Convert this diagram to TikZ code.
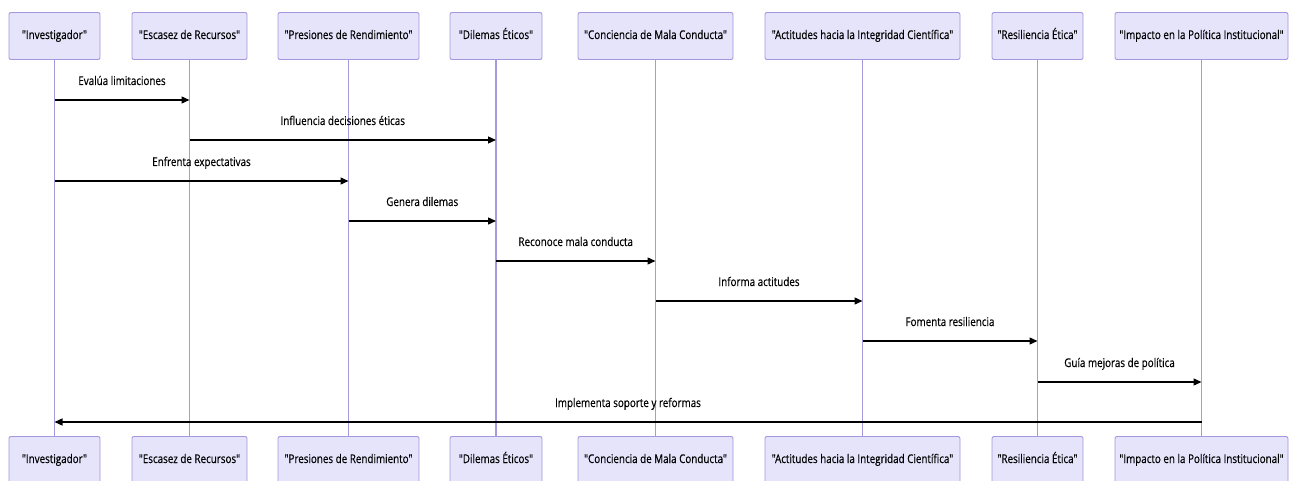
\documentclass[tikz,border=0pt]{standalone}
\usepackage{fontspec}
\setmainfont{Open Sans}[FakeStretch=0.82, FakeBold=0.4, Ligatures=TeXOff]
\usetikzlibrary{arrows.meta,calc}
\definecolor{actorfill}{HTML}{E6E4FB}
\definecolor{actorline}{HTML}{A397DE}
\definecolor{lifeline}{HTML}{A79BE0}
\tikzset{
  actor/.style={draw=actorline, fill=actorfill, line width=0.9pt, rounded corners=2pt,
    minimum height=47pt, inner sep=0pt, text height=9pt, text depth=3pt,
    font=\fontsize{12pt}{14pt}\selectfont, anchor=center},
  life/.style={draw=lifeline, line width=1.1pt},
  msg/.style={draw=black, line width=1.3pt, -{Triangle[length=8pt,width=7pt]}},
  msglabel/.style={font=\fontsize{12pt}{14pt}\selectfont, inner sep=0pt,
    text height=9pt, text depth=3pt}
}
\begin{document}
\begin{tikzpicture}[x=1pt,y=-1pt]
\useasboundingbox (0,0) rectangle (1293,481);
\fill[white] (0,0) rectangle (1293,481);
% participants: name / centre x / box width / text
\foreach \n/\cx/\w/\t in {
  inv/54.5/91/{"Investigador"},
  esc/189.5/115/{"Escasez de Recursos"},
  pre/348.5/141/{"Presiones de Rendimiento"},
  dil/496/92/{"Dilemas Éticos"},
  con/655.5/155/{"Conciencia de Mala Conducta"},
  act/862.5/195/{"Actitudes hacia la Integridad Científica"},
  res/1037.5/91/{"Resiliencia Ética"},
  imp/1201.5/173/{"Impacto en la Política Institucional"}}{
  \draw[life] (\cx,59) -- (\cx,437);
  \node[actor, minimum width=\w pt] (\n-top) at (\cx,36) {\t};
  \node[actor, minimum width=\w pt] (\n-bot) at (\cx,460) {\t};
}
% messages: from lifeline / to lifeline / arrow y / label
\foreach \a/\b/\y/\t in {
  inv/esc/100/{Evalúa limitaciones},
  esc/dil/140/{Influencia decisiones éticas},
  inv/pre/181/{Enfrenta expectativas},
  pre/dil/221/{Genera dilemas},
  dil/con/261/{Reconoce mala conducta},
  con/act/301/{Informa actitudes},
  act/res/341/{Fomenta resiliencia},
  res/imp/382/{Guía mejoras de política},
  imp/inv/422/{Implementa soporte y reformas}}{
  \coordinate (m-a) at (\a-top.south |- 0,\y);
  \coordinate (m-b) at (\b-top.south |- 0,\y);
  \draw[msg] (m-a) -- (m-b);
  \node[msglabel] (lbl-\a-\b) at ($(m-a)!0.5!(m-b)+(0,-18)$) {\t};
}
\end{tikzpicture}
\end{document}
